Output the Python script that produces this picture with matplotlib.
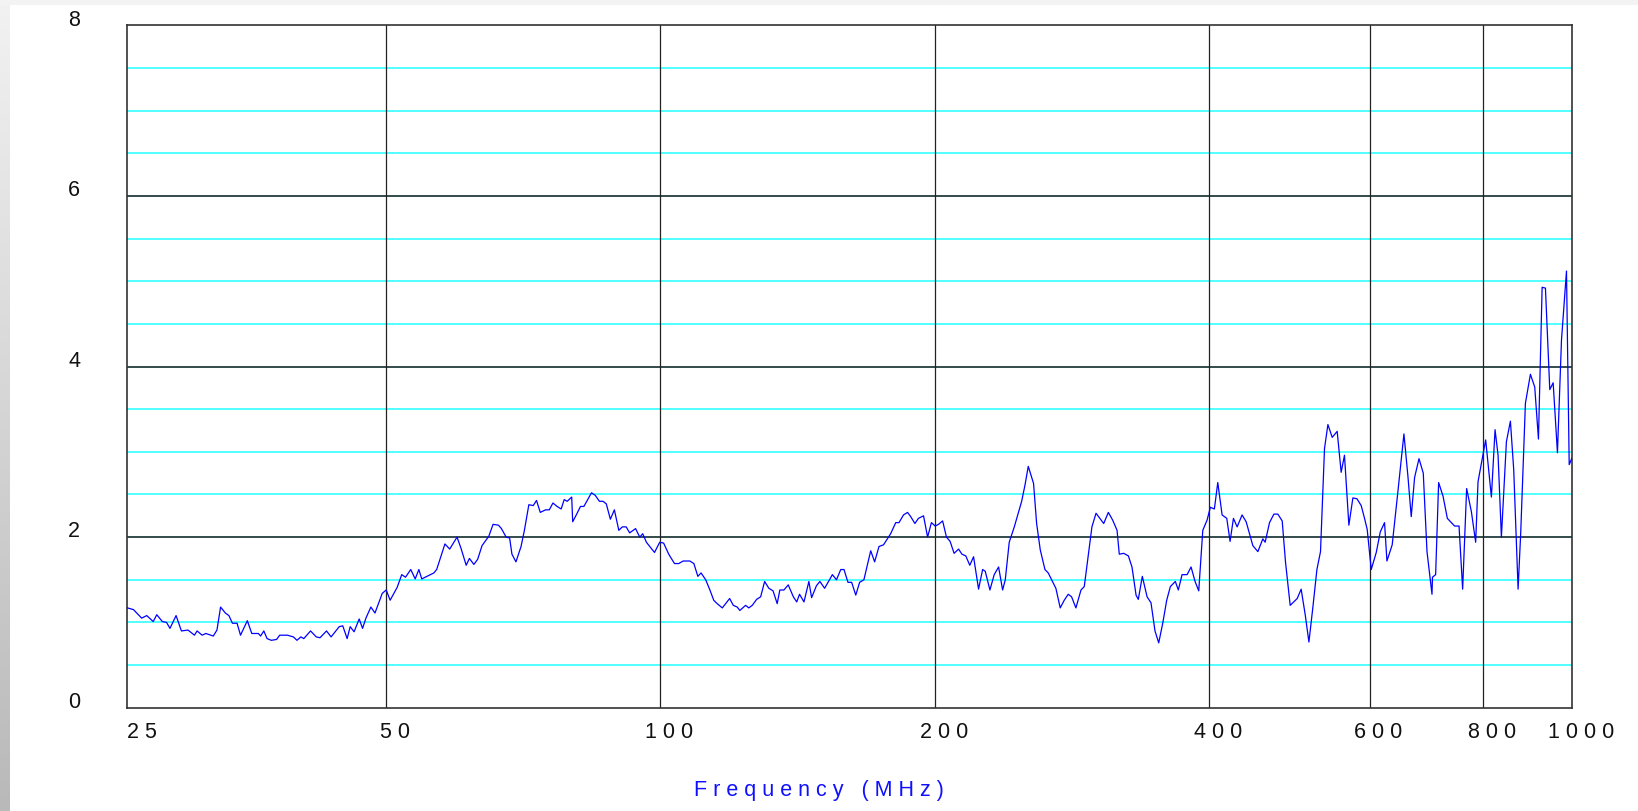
import numpy as np
import matplotlib.pyplot as plt
from matplotlib.colors import LinearSegmentedColormap
from matplotlib.transforms import ScaledTranslation


# ----------------------------
# Data (read off the sweep)
# ----------------------------

freq_mhz = [
    26.0, 26.4, 26.95, 27.3, 27.75, 28.0, 28.4, 28.7, 28.95, 29.4,
    29.8, 30.3, 30.8, 31.0, 31.4, 31.7, 32.3, 32.6, 32.9, 33.3,
    33.6, 33.9, 34.3, 34.6, 35.2, 35.6, 36.2, 36.4, 36.7, 37.0,
    37.4, 37.9, 38.2, 38.95, 39.55, 39.9, 40.3, 40.6, 41.3, 41.9,
    42.3, 43.0, 43.5, 44.4, 44.8, 45.3, 45.65, 46.1, 46.7, 47.1,
    47.5, 48.1, 48.6, 49.5, 50.0, 50.5, 51.4, 52.0, 52.5, 53.2,
    53.8, 54.3, 54.7, 56.4, 56.8, 58.0, 58.7, 59.8, 60.4, 61.2,
    61.7, 62.4, 63.0, 63.7, 64.8, 65.5, 66.4, 66.9, 67.7, 68.3,
    68.7, 69.4, 70.3, 70.9, 71.7, 72.5, 73.1, 73.8, 74.8, 75.5,
    76.2, 77.0, 77.8, 78.4, 79.0, 79.9, 80.1, 80.65, 81.7, 82.4,
    84.0, 84.8, 85.7, 86.5, 87.2, 88.1, 89.0, 90.0, 90.8, 91.7,
    92.5, 93.9, 94.9, 95.6, 96.5, 98.5, 99.8, 100.8, 102.1, 103.6,
    104.7, 105.9, 107.7, 108.8, 109.9, 110.8, 112.1, 113.3, 114.4, 115.4,
    116.9, 119.1, 120.2, 121.4, 122.2, 124.0, 125.0, 126.1, 127.5, 128.8,
    130.1, 131.5, 132.9, 134.3, 135.2, 136.6, 138.1, 139.9, 141.1, 142.1,
    143.7, 145.5, 146.5, 148.3, 149.6, 151.4, 154.4, 156.0, 157.7, 159.0,
    160.6, 162.1, 163.8, 165.4, 167.2, 170.1, 171.8, 173.7, 175.7, 178.9,
    181.2, 182.7, 184.8, 186.7, 188.2, 190.2, 191.9, 194.4, 196.4, 198.3,
    200.2, 201.9, 204.0, 206.0, 207.9, 210.0, 212.4, 214.2, 216.3, 218.5,
    220.6, 223.4, 225.7, 227.2, 229.9, 232.4, 235.0, 237.4, 239.0, 241.4,
    244.5, 249.1, 251.2, 253.3, 256.7, 258.7, 261.1, 264.2, 266.4, 271.6,
    274.6, 277.4, 280.2, 282.6, 285.7, 289.4, 291.8, 297.5, 300.6, 306.5,
    310.1, 313.5, 317.0, 318.8, 322.4, 326.2, 329.2, 332.6, 334.5, 337.9,
    342.0, 345.4, 348.9, 352.2, 355.8, 359.4, 362.7, 367.3, 370.1, 373.6,
    378.4, 382.2, 386.1, 389.7, 393.7, 398.0, 401.3, 405.4, 408.9, 413.4,
    418.3, 421.8, 425.4, 429.4, 434.8, 439.3, 446.8, 452.5, 458.2, 460.9,
    466.0, 471.2, 475.9, 481.2, 485.2, 491.0, 499.8, 504.8, 510.0, 514.8,
    520.0, 525.3, 530.1, 535.5, 540.1, 546.0, 552.9, 558.5, 563.2, 569.5,
    575.3, 581.2, 587.5, 592.5, 596.5, 602.6, 610.3, 616.5, 623.2, 627.0,
    635.4, 644.7, 654.5, 661.2, 666.7, 672.4, 679.9, 687.3, 693.8, 702.6,
    703.5, 709.1, 714.5, 722.5, 730.4, 743.9, 752.3, 759.2, 766.9, 776.1,
    784.6, 789.3, 804.7, 816.4, 824.0, 830.3, 837.3, 848.0, 856.6, 863.8,
    873.4, 879.2, 889.7, 901.0, 910.9, 919.5, 928.1, 935.9, 946.2, 954.3,
    964.7, 974.6, 987.0, 993.8, 1000.0,
]

level = [
    1.17, 1.15, 1.05, 1.08, 1.01, 1.09, 1.01, 1.00, 0.93, 1.08,
    0.90, 0.91, 0.85, 0.90, 0.85, 0.87, 0.84, 0.91, 1.18, 1.11,
    1.08, 0.99, 0.99, 0.85, 1.02, 0.87, 0.87, 0.84, 0.90, 0.81,
    0.79, 0.80, 0.85, 0.85, 0.83, 0.79, 0.83, 0.81, 0.90, 0.83,
    0.82, 0.90, 0.83, 0.95, 0.96, 0.81, 0.95, 0.89, 1.04, 0.93,
    1.05, 1.18, 1.11, 1.34, 1.38, 1.26, 1.41, 1.56, 1.53, 1.62,
    1.51, 1.62, 1.51, 1.58, 1.62, 1.92, 1.86, 2.00, 1.87, 1.67,
    1.75, 1.68, 1.74, 1.90, 2.01, 2.15, 2.14, 2.10, 2.00, 1.99,
    1.80, 1.71, 1.89, 2.08, 2.38, 2.37, 2.43, 2.29, 2.32, 2.32,
    2.40, 2.36, 2.33, 2.44, 2.42, 2.47, 2.18, 2.24, 2.36, 2.36,
    2.52, 2.49, 2.42, 2.42, 2.39, 2.21, 2.32, 2.08, 2.12, 2.12,
    2.05, 2.10, 2.00, 2.04, 1.94, 1.82, 1.94, 1.93, 1.80, 1.69,
    1.69, 1.72, 1.72, 1.69, 1.54, 1.58, 1.50, 1.38, 1.26, 1.22,
    1.17, 1.28, 1.20, 1.18, 1.14, 1.20, 1.17, 1.20, 1.27, 1.30,
    1.48, 1.40, 1.37, 1.22, 1.38, 1.38, 1.44, 1.30, 1.24, 1.33,
    1.24, 1.48, 1.29, 1.43, 1.48, 1.40, 1.56, 1.50, 1.62, 1.62,
    1.47, 1.47, 1.32, 1.47, 1.50, 1.84, 1.71, 1.89, 1.91, 2.04,
    2.17, 2.17, 2.26, 2.29, 2.24, 2.16, 2.22, 2.25, 2.00, 2.17,
    2.13, 2.15, 2.19, 2.00, 1.95, 1.81, 1.86, 1.80, 1.78, 1.67,
    1.77, 1.39, 1.62, 1.60, 1.38, 1.56, 1.65, 1.38, 1.50, 1.94,
    2.12, 2.42, 2.61, 2.83, 2.63, 2.16, 1.85, 1.62, 1.58, 1.40,
    1.17, 1.26, 1.33, 1.30, 1.17, 1.38, 1.42, 2.12, 2.28, 2.16,
    2.29, 2.20, 2.08, 1.80, 1.81, 1.78, 1.65, 1.32, 1.27, 1.54,
    1.30, 1.23, 0.90, 0.76, 0.99, 1.26, 1.42, 1.48, 1.38, 1.56,
    1.56, 1.65, 1.48, 1.37, 2.08, 2.20, 2.35, 2.33, 2.64, 2.26,
    2.22, 1.95, 2.22, 2.12, 2.26, 2.18, 1.90, 1.83, 1.98, 1.94,
    2.17, 2.27, 2.27, 2.19, 1.71, 1.20, 1.28, 1.39, 1.09, 0.77,
    1.18, 1.62, 1.83, 3.04, 3.32, 3.17, 3.24, 2.76, 2.96, 2.14,
    2.46, 2.45, 2.37, 2.22, 2.09, 1.62, 1.82, 2.06, 2.17, 1.72,
    1.91, 2.54, 3.21, 2.71, 2.24, 2.70, 2.92, 2.75, 1.83, 1.33,
    1.53, 1.56, 2.64, 2.48, 2.22, 2.13, 2.13, 1.39, 2.57, 2.30,
    1.94, 2.65, 3.14, 2.47, 3.26, 2.96, 2.00, 3.12, 3.36, 2.79,
    1.39, 2.05, 3.57, 3.91, 3.76, 3.15, 4.93, 4.92, 3.73, 3.81,
    2.99, 4.31, 5.12, 2.85, 2.92,
]

x_ticks = [26, 50, 100, 200, 400, 600, 800, 1000]
x_tick_labels = ["2 5", "5 0", "1 0 0", "2 0 0", "4 0 0",
                 "6 0 0", "8 0 0", "1 0 0 0"]
y_ticks = [0, 2, 4, 6, 8]
y_minor = [0.5, 1, 1.5, 2.5, 3, 3.5, 4.5, 5, 5.5, 6.5, 7, 7.5]


# ----------------------------
# Figure
# ----------------------------

plt.rcParams["font.family"] = ["Liberation Sans", "DejaVu Sans"]

fig = plt.figure(figsize=(16.38, 8.11), dpi=100)
fig.patch.set_facecolor("white")

# grey frame strips on the left and top
strip = fig.add_axes([0, 0, 10 / 1638, 1])
frame_cmap = LinearSegmentedColormap.from_list(
    "frame", ["#f2f2f2", "#b9b9b9"]
)
grad = np.linspace(0, 1, 256).reshape(-1, 1)
strip.imshow(grad, aspect="auto", cmap=frame_cmap,
             extent=[0, 1, 0, 1], origin="upper")
strip.axis("off")

top = fig.add_axes([0, 1 - 5 / 811, 1, 5 / 811])
top.set_facecolor("#f3f3f3")
top.set_xticks([])
top.set_yticks([])
for s in top.spines.values():
    s.set_visible(False)

ax = fig.add_axes([0.0778, 0.1274, 0.8817, 0.8412])

ax.set_xscale("log")
ax.set_xlim(26, 1000)
ax.set_ylim(0, 8)

# grid
for v in y_minor:
    ax.axhline(v, color="#22ffff", lw=1.1, zorder=1)
for v in [2, 4, 6]:
    ax.axhline(v, color="#102c2c", lw=1.2, zorder=2)
for v in x_ticks[1:-1]:
    ax.axvline(v, color="#222222", lw=0.9, zorder=2)

ax.plot(freq_mhz, level, color="#0000ff", lw=0.9, zorder=3)

for s in ax.spines.values():
    s.set_color("#333333")
    s.set_linewidth(1.2)

ax.set_xticks(x_ticks)
ax.set_xticklabels(x_tick_labels)
ax.xaxis.set_minor_locator(plt.NullLocator())
ax.set_yticks(y_ticks)
ax.set_yticklabels([str(v) for v in y_ticks])

ax.tick_params(axis="x", length=0, pad=10, labelsize=15.5,
               labelcolor="#111111")
ax.tick_params(axis="y", length=0, pad=34, labelsize=15.5,
               labelcolor="#111111")

# nudge tick labels like the original
up = ScaledTranslation(0, 7.7 / 100, fig.dpi_scale_trans)
for lab in ax.get_yticklabels():
    lab.set_transform(lab.get_transform() + up)

right = ScaledTranslation(9 / 100, 0, fig.dpi_scale_trans)
xl = ax.get_xticklabels()
xl[0].set_horizontalalignment("left")
for lab in xl[1:]:
    lab.set_transform(lab.get_transform() + right)

fig.text(0.5, 15 / 811, "F r e q u e n c y   ( M H z )",
         ha="center", va="baseline", fontsize=15.5, color="#1010ff")

fig.savefig("out.png", dpi=100)
